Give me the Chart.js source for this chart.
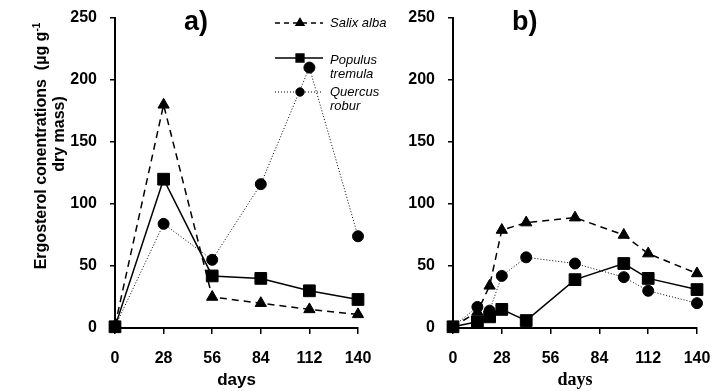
<!DOCTYPE html>
<html>
<head>
<meta charset="utf-8">
<script src="https://cdn.jsdelivr.net/npm/chart.js@4.4.0/dist/chart.umd.min.js"></script>
<style>
  body { margin: 0; background: #fff; width: 712px; height: 391px; overflow: hidden; position: relative; font-family: "Liberation Sans", Arial, sans-serif; }
  .box { position: absolute; top: 0; height: 391px; }
  .box canvas { display: block; }
  .ytitle { position: absolute; font-weight: bold; font-size: 16px; text-align: center; transform: rotate(-90deg); white-space: nowrap; height: 18px; line-height: 18px; }
  .leg { position: absolute; left: 330px; font-style: italic; font-size: 13px; line-height: 14px; }
  .panel { position: absolute; font-weight: bold; font-size: 27px; line-height: 27px; }
</style>
</head>
<body>
<div class="box" style="left:0;width:380px"><canvas id="grafA" width="380" height="391"></canvas></div>
<div class="box" style="left:380px;width:332px"><canvas id="grafB" width="332" height="391"></canvas></div>

<div class="ytitle" style="left:-109px;top:137px;width:300px">Ergosterol conentrations &nbsp;(µg g<sup style="font-size:10px;line-height:0">-1</sup></div>
<div class="ytitle" style="left:-91px;top:125px;width:300px">dry mass)</div>

<div class="panel" style="left:184px;top:8px">a)</div>
<div class="panel" style="left:512px;top:8px">b)</div>

<div class="leg" style="top:16px">Salix alba</div>
<div class="leg" style="top:53px">Populus<br>tremula</div>
<div class="leg" style="top:85px">Quercus<br>robur</div>

<script>
// dias de amostragem
const daysA = [0, 28, 56, 84, 112, 140];
const daysB = [0, 14, 21, 28, 42, 70, 98, 112, 140];

// a) valores
const salixA = [2, 180, 25, 20, 15, 11];
const populusA = [1, 120, 42, 40, 30, 23];
const quercusA = [1, 84, 55, 116, 210, 74];

// b)
const salixB = [1, 13, 34, 79, 85, 89, 75, 60, 44];
const populusB = [1, 5, 9, 15, 6, 39, 52, 40, 31];
const quercusB = [1, 17, 14, 42, 57, 52, 41, 30, 20];

const xTicks = [0, 28, 56, 84, 112, 140];
const yTicks = [0, 50, 100, 150, 200, 250];

const especies = ["Salix alba", "Populus tremula", "Quercus robur"];

const estilos = [
  { pointStyle: "triangle", pointRadius: 6.5, borderDash: [7, 5], borderWidth: 1.5 },
  { pointStyle: "rect", pointRadius: 8.3, borderDash: [], borderWidth: 1.5 },
  { pointStyle: "circle", pointRadius: 5.5, borderDash: [1, 2], borderWidth: 1 }
];

// lineHeight mexe só na posição vertical dos rótulos
const fonteX = { family: "Liberation Sans", size: 16, weight: "bold", lineHeight: 3.1 };
const fonteY = { family: "Liberation Sans", size: 16, weight: "bold", lineHeight: 0.25 };

function serie(dias, valores, i) {
  const e = estilos[i];
  return {
    label: especies[i],
    data: dias.map((d, k) => ({ x: d, y: valores[k] })),
    borderColor: "#000",
    backgroundColor: "#000",
    borderWidth: e.borderWidth,
    borderDash: e.borderDash,
    pointStyle: e.pointStyle,
    pointRadius: e.pointRadius,
    pointBorderWidth: 1,
    tension: 0,
    clip: false
  };
}

function escalas(yWidth, xTitleFont) {
  return {
    x: {
      type: "linear", min: 0, max: 140,
      afterBuildTicks: s => { s.ticks = xTicks.map(v => ({ value: v })); },
      ticks: { color: "#000", font: fonteX, padding: 0 },
      grid: { drawOnChartArea: false, tickLength: 6, color: "#000", lineWidth: 1.5 },
      border: { color: "#000", width: 2 },
      title: { display: true, text: "days", color: "#000", font: xTitleFont, padding: { top: 0, bottom: 0 } },
      afterFit: s => { s.height = 63; }
    },
    y: {
      min: 0, max: 250,
      afterBuildTicks: s => { s.ticks = yTicks.map(v => ({ value: v })); },
      ticks: { color: "#000", font: fonteY, padding: 13 },
      grid: { drawOnChartArea: false, tickLength: 5, color: "#000", lineWidth: 1.5 },
      border: { color: "#000", width: 2 },
      afterFit: s => { s.width = yWidth; }
    }
  };
}

// amostras da legenda no painel a
const legendaPlugin = {
  id: "legendaAmostras",
  afterDraw(chart) {
    const ctx = chart.ctx;
    const ys = [23, 58, 92];
    const rs = [4.5, 5.5, 4.2];
    ctx.save();
    estilos.forEach((e, i) => {
      ctx.beginPath();
      ctx.setLineDash(i === 0 ? [5, 4] : e.borderDash);
      ctx.lineWidth = e.borderWidth;
      ctx.strokeStyle = "#000";
      ctx.moveTo(275, ys[i]);
      ctx.lineTo(323, ys[i]);
      ctx.stroke();
      ctx.setLineDash([]);
      ctx.fillStyle = "#000";
      Chart.helpers.drawPoint(ctx, { pointStyle: e.pointStyle, radius: rs[i], borderWidth: 1 }, 300, ys[i]);
    });
    ctx.restore();
  }
};

const comum = {
  responsive: false,
  animation: false,
  plugins: { legend: { display: false }, tooltip: { enabled: false } }
};

new Chart(document.getElementById("grafA"), {
  type: "line",
  data: { datasets: [serie(daysA, salixA, 0), serie(daysA, populusA, 1), serie(daysA, quercusA, 2)] },
  options: {
    ...comum,
    layout: { padding: { left: 0, top: 18, right: 22, bottom: 0 } },
    scales: escalas(115, { family: "Liberation Sans", size: 17, weight: "bold" })
  },
  plugins: [legendaPlugin]
});

new Chart(document.getElementById("grafB"), {
  type: "line",
  data: { datasets: [serie(daysB, salixB, 0), serie(daysB, populusB, 1), serie(daysB, quercusB, 2)] },
  options: {
    ...comum,
    layout: { padding: { left: 0, top: 18, right: 15, bottom: 0 } },
    scales: escalas(73, { family: "Liberation Serif", size: 18, weight: "bold" })
  }
});
</script>
</body>
</html>
